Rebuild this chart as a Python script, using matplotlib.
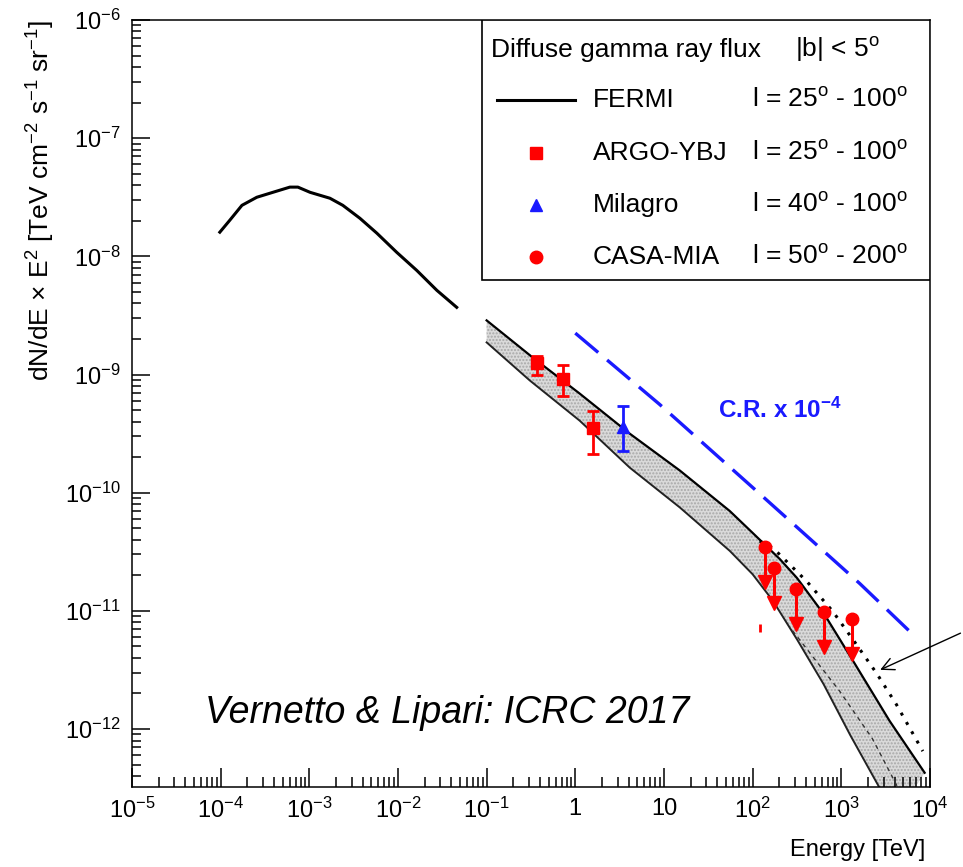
import numpy as np
import matplotlib
matplotlib.use("Agg")
import matplotlib.pyplot as plt
from matplotlib.ticker import LogLocator, FuncFormatter, NullFormatter
from matplotlib.patches import Rectangle

plt.rcParams['font.family'] = 'Liberation Sans'
plt.rcParams['mathtext.fontset'] = 'custom'
plt.rcParams['mathtext.rm'] = 'Liberation Sans'
plt.rcParams['mathtext.it'] = 'Liberation Sans:italic'
plt.rcParams['mathtext.bf'] = 'Liberation Sans:bold'

# FERMI diffuse flux (low energy part)
fermi_E = [9.8e-5, 1.27e-4, 1.74e-4, 2.56e-4, 3.89e-4, 6.04e-4, 7.44e-4, 1.02e-3,
           1.71e-3, 2.39e-3, 3.72e-3, 5.78e-3, 9.7e-3, 1.63e-2, 2.75e-2, 4.6e-2]
fermi_F = [1.60e-8, 2.02e-8, 2.70e-8, 3.16e-8, 3.48e-8, 3.85e-8, 3.85e-8, 3.48e-8,
           3.10e-8, 2.70e-8, 2.10e-8, 1.57e-8, 1.08e-8, 7.6e-9, 5.15e-9, 3.70e-9]

# model band
band_up_E = [0.1, 0.332, 1.12, 4.11, 15.1, 55.2, 100, 202, 316, 684, 1350, 3510, 8710]
band_up_F = [2.87e-9, 1.39e-9, 6.9e-10, 3.16e-10, 1.54e-10, 7.0e-11, 4.57e-11, 2.75e-11,
             1.9e-11, 8.7e-12, 3.8e-12, 1.17e-12, 4.27e-13]
band_lo_E = [0.1, 0.307, 1.12, 4.11, 15.1, 55.2, 100, 169, 316, 631, 1260, 2690, 4000]
band_lo_F = [1.87e-9, 8.9e-10, 4.07e-10, 1.63e-10, 7.5e-11, 3.22e-11, 2.04e-11, 1.22e-11,
             5.75e-12, 2.4e-12, 8.9e-13, 3.2e-13, 1.78e-13]

# inner dashed curve and outer dotted curve
inner_E = [282, 955, 2240, 4170, 5000]
inner_F = [6.8e-12, 2.1e-12, 8.3e-13, 3.4e-13, 2.4e-13]
dotted_E = [120, 170, 407, 794, 1480, 2510, 4170, 8300]
dotted_F = [3.9e-11, 3.4e-11, 1.78e-11, 1.0e-11, 5.2e-12, 2.95e-12, 1.62e-12, 6.5e-13]

# cosmic rays x 1e-4
cr_E = [1.0, 8.9, 120, 1620, 6170]
cr_F = [2.24e-9, 5.6e-10, 9.8e-11, 1.7e-11, 6.5e-12]

# ARGO-YBJ
argo_E = [0.37, 0.72, 1.57]
argo_F = [1.24e-9, 9.1e-10, 3.5e-10]
argo_hi = [1.44e-9, 1.2e-9, 4.95e-10]
argo_lo = [1.0e-9, 6.6e-10, 2.14e-10]

# Milagro
mil_E = [3.43]
mil_F = [3.63e-10]
mil_hi = [5.37e-10]
mil_lo = [2.27e-10]

# CASA-MIA upper limits
casa_E = [137, 173, 306, 632, 1310]
casa_F = [3.48e-11, 2.31e-11, 1.54e-11, 9.8e-12, 8.5e-12]
ul_factor = 10 ** -0.33

legend_names = ['FERMI', 'ARGO-YBJ', 'Milagro', 'CASA-MIA']
deg = r'$^{\mathrm{o}}$'
legend_ranges = ['l = 25' + deg + ' - 100' + deg, 'l = 25' + deg + ' - 100' + deg,
                 'l = 40' + deg + ' - 100' + deg, 'l = 50' + deg + ' - 200' + deg]

fig = plt.figure(figsize=(9.63, 8.67), dpi=100)
ax = fig.add_axes([0.137, 0.0923, 0.8287, 0.8847])
ax.set_xscale('log')
ax.set_yscale('log')
ax.set_xlim(1e-5, 1e4)
ax.set_ylim(10 ** -12.49, 1e-6)

# band
poly_E = band_up_E + band_lo_E[::-1]
poly_F = band_up_F + band_lo_F[::-1]
ax.fill(poly_E, poly_F, facecolor='#dadada', edgecolor='#a8a8a8', hatch='.....', lw=0, zorder=1)
ax.plot(band_up_E, band_up_F, color='black', lw=1.6, zorder=2)
ax.plot(band_lo_E, band_lo_F, color='#222222', lw=1.4, zorder=2)
ax.plot(inner_E, inner_F, color='#333333', lw=1.0, ls=(0, (3, 3)), zorder=2)
ax.plot(dotted_E, dotted_F, color='black', lw=2.2, ls=(0, (1, 2.5)), zorder=2)

ax.plot(fermi_E, fermi_F, color='black', lw=2.2, zorder=3)
ax.plot(cr_E, cr_F, color='#1a1aff', lw=2.4, ls=(0, (9, 3.5)), zorder=3)

# ARGO and Milagro
a_err = [np.array(argo_F) - np.array(argo_lo), np.array(argo_hi) - np.array(argo_F)]
ax.errorbar(argo_E, argo_F, yerr=a_err, fmt='s', color='red', ms=9, elinewidth=2,
            capsize=4, capthick=2, zorder=4)
m_err = [np.array(mil_F) - np.array(mil_lo), np.array(mil_hi) - np.array(mil_F)]
ax.errorbar(mil_E, mil_F, yerr=m_err, fmt='^', color='#1a1aff', ms=9, elinewidth=2,
            capsize=4, capthick=2, zorder=4)

# CASA-MIA upper limits
casa_low = np.array(casa_F) * ul_factor
ax.vlines(casa_E, casa_low, casa_F, color='red', lw=2.2, zorder=4)
ax.plot(casa_E, casa_F, 'o', color='red', ms=9, zorder=4)
ax.plot(casa_E, casa_low * 1.08, 'v', color='red', ms=10, zorder=4)
ax.plot([120], [7.1e-12], '|', color='red', ms=6, mew=2, zorder=4)

# ticks
def xfmt(v, pos):
    e = int(round(np.log10(v)))
    if e == 0:
        return '1'
    if e == 1:
        return '10'
    return r'$10^{%d}$' % e

def yfmt(v, pos):
    e = int(round(np.log10(v)))
    return r'$10^{%d}$' % e

ax.xaxis.set_major_locator(LogLocator(base=10, numticks=20))
ax.xaxis.set_minor_locator(LogLocator(base=10, subs=np.arange(2, 10), numticks=200))
ax.yaxis.set_major_locator(LogLocator(base=10, numticks=20))
ax.yaxis.set_minor_locator(LogLocator(base=10, subs=np.arange(2, 10), numticks=200))
ax.xaxis.set_major_formatter(FuncFormatter(xfmt))
ax.yaxis.set_major_formatter(FuncFormatter(yfmt))
ax.xaxis.set_minor_formatter(NullFormatter())
ax.yaxis.set_minor_formatter(NullFormatter())
ax.tick_params(which='both', direction='in', top=False, right=False, width=1.1, labelsize=17)
ax.tick_params(axis='x', which='major', length=14, pad=8)
ax.tick_params(axis='x', which='minor', length=7)
ax.tick_params(axis='y', which='major', length=13, pad=8)
ax.tick_params(axis='y', which='minor', length=6.5)
for s in ax.spines.values():
    s.set_linewidth(1.1)

ax.set_xlabel('Energy [TeV]', fontsize=17, loc='right')
ax.xaxis.set_label_coords(0.994, -0.068)
ax.set_ylabel(r'dN/dE $\times$ E$^{2}$ [TeV cm$^{-2}$ s$^{-1}$ sr$^{-1}$]', fontsize=19, loc='top')
ax.yaxis.set_label_coords(-0.094, 1.0)

# annotations
ax.text(202, 4.95e-10, r'C.R. x 10$^{\mathbf{-4}}$', color='#1a1aff', fontsize=17.5,
        fontweight='bold', ha='center', va='center')
fig.text(205 / 963, 1 - 713 / 867, 'Vernetto & Lipari: ICRC 2017', fontsize=27,
         style='italic', ha='left', va='center')
ax.annotate('', xy=(2570, 3.1e-12), xycoords='data', xytext=(963, 867 - 632),
            textcoords='figure pixels',
            arrowprops=dict(arrowstyle='->', color='black', lw=1.0,
                            mutation_scale=22), annotation_clip=False)

# legend box
def fx(px):
    return (px - 132) / 798.0

def fy(py):
    return (787 - py) / 767.0

ax.add_patch(Rectangle((fx(482), fy(280)), 1 - fx(482), 1 - fy(280), transform=ax.transAxes,
                       facecolor='white', edgecolor='black', lw=1.2, zorder=5))
ax.text(fx(491), fy(50), 'Diffuse gamma ray flux', transform=ax.transAxes,
        fontsize=19, va='center', ha='left', zorder=6)
ax.text(fx(795), fy(50), '|b| < 5' + deg, transform=ax.transAxes,
        fontsize=19, va='center', ha='left', zorder=6)
rows = [100, 153, 205, 257]
ax.plot([fx(497), fx(575)], [fy(rows[0])] * 2, color='black', lw=2.2,
        transform=ax.transAxes, zorder=6)
ax.plot([fx(536)], [fy(rows[1])], 's', color='red', ms=9, transform=ax.transAxes, zorder=6)
ax.plot([fx(536)], [fy(rows[2])], '^', color='#1a1aff', ms=9, transform=ax.transAxes, zorder=6)
ax.plot([fx(536)], [fy(rows[3])], 'o', color='red', ms=9, transform=ax.transAxes, zorder=6)
for r, name, rng in zip(rows, legend_names, legend_ranges):
    ax.text(fx(593), fy(r), name, transform=ax.transAxes, fontsize=19,
            va='center', ha='left', zorder=6)
    ax.text(fx(908), fy(r), rng, transform=ax.transAxes, fontsize=19,
            va='center', ha='right', zorder=6)

fig.savefig('out.png', dpi=100)
